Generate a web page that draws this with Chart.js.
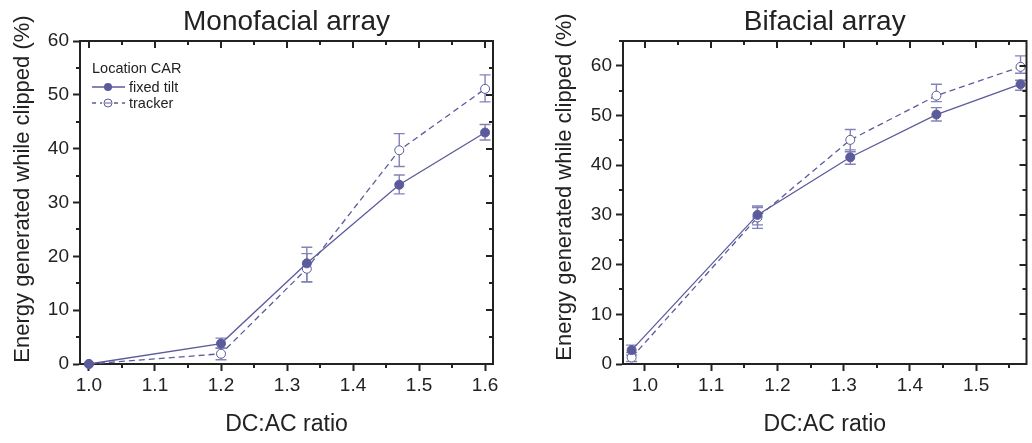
<!DOCTYPE html>
<html>
<head>
<meta charset="utf-8">
<script src="https://cdn.jsdelivr.net/npm/chart.js@4.4.1/dist/chart.umd.min.js"></script>
<style>
  html, body { margin: 0; padding: 0; background: #fff; }
  .wrap { position: absolute; top: 0; width: 516px; height: 443px; }
</style>
</head>
<body>
<div class="wrap" style="left:0"><canvas id="mono"></canvas></div>
<div class="wrap" style="left:516px"><canvas id="bi"></canvas></div>
<script>
// monofacial array
const monoFixedX = [1.0, 1.2, 1.33, 1.47, 1.6];
const monoFixedY = [0, 3.8, 18.7, 33.3, 43.0];
const monoFixedLo = [0, 2.9, 15.3, 31.6, 41.6];
const monoFixedHi = [0, 4.8, 21.7, 35.1, 44.5];
const monoTrackX = [1.0, 1.2, 1.33, 1.47, 1.6];
const monoTrackY = [0, 1.9, 17.7, 39.7, 51.1];
const monoTrackLo = [0, 0.8, 15.2, 36.7, 48.7];
const monoTrackHi = [0, 3.0, 20.5, 42.8, 53.7];

// bifacial array
const biFixedX = [0.98, 1.17, 1.31, 1.44, 1.567];
const biFixedY = [2.8, 30.0, 41.6, 50.2, 56.3];
const biFixedLo = [1.8, 28.0, 40.2, 48.9, 55.1];
const biFixedHi = [3.8, 31.8, 43.1, 51.6, 57.1];
const biTrackX = [0.98, 1.17, 1.31, 1.44, 1.567];
const biTrackY = [1.3, 29.5, 45.1, 54.0, 59.8];
const biTrackLo = [0.5, 27.3, 42.7, 52.8, 58.5];
const biTrackHi = [2.3, 31.5, 47.2, 56.3, 62.0];

const xTicks = [1.0, 1.1, 1.2, 1.3, 1.4, 1.5, 1.6];
const xMinor = [1.05, 1.15, 1.25, 1.35, 1.45, 1.55];
const monoYTicks = [0, 10, 20, 30, 40, 50, 60];
const monoYMinor = [5, 15, 25, 35, 45, 55];
const biYTicks = [0, 10, 20, 30, 40, 50, 60];
const biYMinor = [5, 15, 25, 35, 45, 55, 65];

const seriesColor = '#5b5b9c';
const errColor = '#8383b9';
const ink = '#222';
const fontFam = '"Liberation Sans", Arial, sans-serif';

function pts(xs, ys) {
    return xs.map((x, i) => ({ x: x, y: ys[i] }));
}

// error bars, drawn under the markers
const errorBars = {
    id: 'errorBars',
    beforeDatasetsDraw(chart) {
        const ctx = chart.ctx;
        const xs = chart.scales.x, ys = chart.scales.y;
        ctx.save();
        ctx.strokeStyle = errColor;
        ctx.lineWidth = 1.4;
        chart.data.datasets.forEach(ds => {
            ds.data.forEach((p, i) => {
                const lo = ds.errLo[i], hi = ds.errHi[i];
                if (lo === hi) return;
                const px = xs.getPixelForValue(p.x);
                const y1 = ys.getPixelForValue(lo), y2 = ys.getPixelForValue(hi);
                ctx.beginPath();
                ctx.moveTo(px, y1); ctx.lineTo(px, y2);
                ctx.moveTo(px - 5.5, y1); ctx.lineTo(px + 5.5, y1);
                ctx.moveTo(px - 5.5, y2); ctx.lineTo(px + 5.5, y2);
                ctx.stroke();
            });
        });
        ctx.restore();
    }
};

// frame, mirror ticks, minor ticks, titles, legend
const frame = {
    id: 'frame',
    afterDraw(chart) {
        const o = chart.options.plugins.frame;
        const ctx = chart.ctx;
        const a = chart.chartArea;
        const xs = chart.scales.x, ys = chart.scales.y;
        ctx.save();
        ctx.strokeStyle = ink;
        ctx.lineWidth = 2;
        ctx.beginPath();
        ctx.moveTo(a.left - 1, a.top); ctx.lineTo(a.right, a.top); ctx.lineTo(a.right, a.bottom + 1);
        ctx.stroke();

        ctx.beginPath();
        xTicks.forEach(v => {
            const px = Math.round(xs.getPixelForValue(v));
            if (px > a.right) return;
            ctx.moveTo(px, a.top); ctx.lineTo(px, a.top + 7);
        });
        xMinor.forEach(v => {
            const px = Math.round(xs.getPixelForValue(v));
            if (px > a.right) return;
            ctx.moveTo(px, a.top); ctx.lineTo(px, a.top + 4);
            ctx.moveTo(px, a.bottom); ctx.lineTo(px, a.bottom + 4);
        });
        o.yTicks.forEach(v => {
            const py = Math.round(ys.getPixelForValue(v));
            ctx.moveTo(a.right, py); ctx.lineTo(a.right - 7, py);
        });
        o.yMinor.forEach(v => {
            const py = Math.round(ys.getPixelForValue(v));
            ctx.moveTo(a.right, py); ctx.lineTo(a.right - 4, py);
            ctx.moveTo(a.left, py); ctx.lineTo(a.left - 4, py);
        });
        ctx.stroke();

        // chart title, centred over the plot box
        ctx.fillStyle = ink;
        ctx.textAlign = 'center';
        ctx.textBaseline = 'alphabetic';
        ctx.font = '28px ' + fontFam;
        ctx.fillText(o.title, (a.left + a.right) / 2, 30);

        // y title
        ctx.font = '22px ' + fontFam;
        ctx.textBaseline = 'middle';
        ctx.save();
        ctx.translate(o.yTitleX, o.yTitleY);
        ctx.rotate(-Math.PI / 2);
        ctx.fillText('Energy generated while clipped (%)', 0, 0);
        ctx.restore();

        // legend
        const L = o.legend;
        ctx.textAlign = 'left';
        ctx.font = '14.5px ' + fontFam;
        ctx.fillText('Location CAR', L.x, L.y0);
        const rows = [
            { label: 'fixed tilt', filled: true, dash: L.fixedDash, y: L.y1 },
            { label: 'tracker', filled: false, dash: L.trackDash, y: L.y2 }
        ];
        rows.forEach(r => {
            ctx.strokeStyle = seriesColor;
            ctx.lineWidth = 1.3;
            ctx.setLineDash(r.dash);
            ctx.beginPath();
            if (r.dash.length || !r.filled && L.gapTrack) {
                ctx.moveTo(L.x, r.y); ctx.lineTo(L.mx - 6, r.y);
                ctx.moveTo(L.mx + 6, r.y); ctx.lineTo(L.x + L.len, r.y);
            } else {
                ctx.moveTo(L.x, r.y); ctx.lineTo(L.x + L.len, r.y);
            }
            ctx.stroke();
            ctx.setLineDash([]);
            ctx.beginPath();
            ctx.arc(L.mx, r.y, 4, 0, Math.PI * 2);
            if (r.filled) {
                ctx.fillStyle = seriesColor; ctx.fill();
            } else {
                ctx.fillStyle = '#fff'; ctx.fill();
                ctx.lineWidth = 1; ctx.stroke();
                if (L.strikeTrack) {
                    ctx.beginPath(); ctx.moveTo(L.mx - 3, r.y); ctx.lineTo(L.mx + 3, r.y); ctx.stroke();
                }
            }
            ctx.fillStyle = ink;
            ctx.fillText(r.label, L.x + L.len + 4, r.y + 1);
        });
        ctx.restore();
    }
};

function makeChart(id, cfg) {
    return new Chart(document.getElementById(id), {
        type: 'scatter',
        data: {
            datasets: [
                {
                    label: 'fixed tilt',
                    data: pts(cfg.fx, cfg.fy),
                    errLo: cfg.flo, errHi: cfg.fhi,
                    showLine: true,
                    borderColor: seriesColor,
                    borderWidth: 1.3,
                    pointRadius: 4.5,
                    pointBackgroundColor: seriesColor,
                    pointBorderColor: seriesColor,
                    pointBorderWidth: 1,
                    clip: false
                },
                {
                    label: 'tracker',
                    data: pts(cfg.tx, cfg.ty),
                    errLo: cfg.tlo, errHi: cfg.thi,
                    showLine: true,
                    borderColor: seriesColor,
                    borderWidth: 1.3,
                    borderDash: [6, 4],
                    pointRadius: 4.5,
                    pointBackgroundColor: '#fff',
                    pointBorderColor: seriesColor,
                    pointBorderWidth: 1,
                    clip: false
                }
            ]
        },
        options: {
            responsive: true,
            maintainAspectRatio: false,
            animation: false,
            events: [],
            layout: { padding: { left: 0, right: cfg.padRight, top: 41, bottom: 0 } },
            plugins: {
                legend: { display: false },
                tooltip: { enabled: false },
                title: { display: false },
                frame: {
                    title: cfg.title,
                    yTicks: cfg.yTicks, yMinor: cfg.yMinor,
                    yTitleX: cfg.yTitleX, yTitleY: cfg.yTitleY,
                    legend: cfg.legend
                }
            },
            scales: {
                x: {
                    type: 'linear',
                    min: cfg.xmin, max: cfg.xmax,
                    afterBuildTicks: s => { s.ticks = xTicks.filter(v => v <= cfg.xmax).map(v => ({ value: v })); },
                    afterFit: s => { s.height = 79; },
                    border: { display: true, color: ink, width: 2 },
                    grid: { drawOnChartArea: false, drawTicks: true, tickLength: 7, tickColor: ink, tickWidth: 2 },
                    ticks: {
                        color: ink, padding: 3,
                        font: { family: fontFam, size: 19 },
                        callback: v => v.toFixed(1)
                    },
                    title: {
                        display: true, text: 'DC:AC ratio', color: ink,
                        font: { family: fontFam, size: 23 },
                        padding: { top: 4, bottom: 5 }
                    }
                },
                y: {
                    type: 'linear',
                    min: 0, max: cfg.ymax,
                    afterBuildTicks: s => { s.ticks = cfg.yTicks.map(v => ({ value: v })); },
                    afterFit: s => { s.width = cfg.yWidth; },
                    border: { display: true, color: ink, width: 2 },
                    grid: { drawOnChartArea: false, drawTicks: true, tickLength: 7, tickColor: ink, tickWidth: 2 },
                    ticks: {
                        color: ink, padding: 4,
                        font: { family: fontFam, size: 19 }
                    }
                }
            }
        },
        plugins: [errorBars, frame]
    });
}

makeChart('mono', {
    title: 'Monofacial array',
    fx: monoFixedX, fy: monoFixedY, flo: monoFixedLo, fhi: monoFixedHi,
    tx: monoTrackX, ty: monoTrackY, tlo: monoTrackLo, thi: monoTrackHi,
    xmin: 0.9864, xmax: 1.612, ymax: 60,
    yTicks: monoYTicks, yMinor: monoYMinor,
    yWidth: 80, padRight: 23,
    yTitleX: 23, yTitleY: 189,
    legend: { x: 92, y0: 69, y1: 87, y2: 103, len: 33, mx: 108, fixedDash: [], trackDash: [4, 4], strikeTrack: true, gapTrack: true }
});

makeChart('bi', {
    title: 'Bifacial array',
    fx: biFixedX, fy: biFixedY, flo: biFixedLo, fhi: biFixedHi,
    tx: biTrackX, ty: biTrackY, tlo: biTrackLo, thi: biTrackHi,
    xmin: 0.967, xmax: 1.576, ymax: 65,
    yTicks: biYTicks, yMinor: biYMinor,
    yWidth: 107, padRight: 1,
    yTitleX: 49, yTitleY: 187,
    legend: { x: 634, y0: 68, y1: 85, y2: 102, len: 31, mx: 649, fixedDash: [], trackDash: [], strikeTrack: false, gapTrack: true }
});
</script>
</body>
</html>
